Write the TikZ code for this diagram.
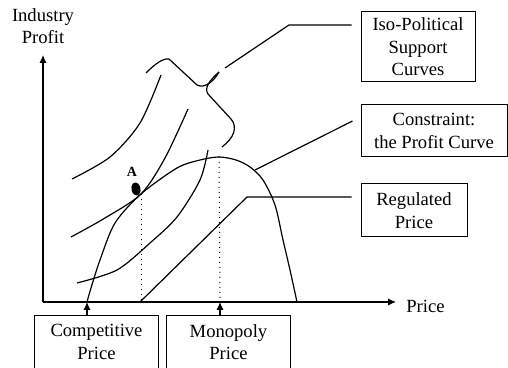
\documentclass[tikz,border=0pt]{standalone}
\usepackage{fontspec}
\setmainfont{Liberation Serif}
\usetikzlibrary{arrows.meta, positioning, calc}

\begin{document}
\begin{tikzpicture}[x=0.5pt, y=0.5pt,
    txt/.style={align=center, inner sep=0pt, font=\fontsize{9.3}{11.2}\selectfont},
    box/.style={txt, draw, line width=0.5pt},
    curve/.style={line width=0.6pt},
    tip/.style={-{Latex[length=4pt, width=3.6pt]}, line width=0.55pt}]
    \useasboundingbox (0,0) rectangle (508,368);
    \coordinate (O) at (43,66);
    \coordinate (ytip) at (43,313);
    \coordinate (xtip) at (396,66);
    \draw[tip] (O) -- (ytip);
    \draw[tip] (O) -- (xtip);
    \node[txt] (ylab) at (43,342) {Industry\\Profit};
    \node[txt, anchor=west] (xlab) at (406,62) {Price};

    \node[box, minimum width=57pt, minimum height=35pt] (iso) at (418,321) {Iso-Political\\Support\\Curves};
    \node[box, minimum width=73pt, minimum height=26pt] (constr) at (434,237) {Constraint:\\the Profit Curve};
    \node[box, minimum width=53pt, minimum height=26.5pt] (reg) at (414,157.5) {Regulated\\Price};
    \node[txt, minimum width=61.5pt, minimum height=26pt] (comp) at (96.5,26) {Competitive\\Price};
    \node[txt, minimum width=61.5pt, minimum height=26pt] (mono) at (228.5,26) {Monopoly\\Price};
    \draw[line width=0.5pt] (comp.south west) |- (comp.north east) -- (comp.south east);
    \draw[line width=0.5pt] (mono.south west) |- (mono.north east) -- (mono.south east);

    \coordinate (pc) at (87,66);
    \coordinate (pm) at (220,66);
    \coordinate (tA) at (141,174);
    \coordinate (peak) at (219,211);
    \draw[tip] (comp.north -| pc) -- (pc);
    \draw[tip] (mono.north -| pm) -- (pm);

    \draw[curve] plot[smooth] coordinates {(87,66) (91,80) (100,108) (115,145) (141,174) (177,200) (200,208) (219,211) (236,208) (250,201) (263,188) (275,163) (283,128) (290,98) (297,66)};
    \draw[curve] plot[smooth] coordinates {(72,189) (110,211) (140,245) (161,293)};
    \draw[curve] plot[smooth] coordinates {(71,131) (105,150) (141,174) (165,210) (188,259)};
    \draw[curve] plot[smooth] coordinates {(77,85) (117,98) (150,125) (177,151) (200,188) (208,218)};

    \draw[curve] (146,295) .. controls (155,304) and (163,310) .. (169,309) -- (197,283) .. controls (205,279) and (214,287) .. (219,296);
    \draw[curve] (219,296) .. controls (209,287) and (204,280) .. (208,274) -- (231,249) .. controls (238,241) and (234,230) .. (222,221);

    \draw[dotted, line width=0.5pt] (tA) -- (tA |- O);
    \draw[dotted, line width=0.5pt] (peak) -- (pm);
    \fill[rotate around={10:(136,179)}] (136,179) ellipse [x radius=4.5, y radius=6.5];
    \node[inner sep=0pt, font=\fontsize{7}{8}\selectfont\bfseries] (alab) at (132,196) {A};

    \coordinate (rp) at (140,66);
    \coordinate (rbend) at (247,171);
    \draw[curve, shorten >=4.5pt] (rp) -- (rbend) -- (rbend -| reg.west);
    \coordinate (cfoot) at (255,198);
    \draw[curve, shorten >=4.5pt] (cfoot) -- ([yshift=7pt]constr.west);
    \coordinate (isostart) at (225,300);
    \coordinate (ibend) at (289,343);
    \draw[curve, shorten >=4.5pt] (isostart) -- (ibend) -- (ibend -| iso.west);
\end{tikzpicture}
\end{document}
